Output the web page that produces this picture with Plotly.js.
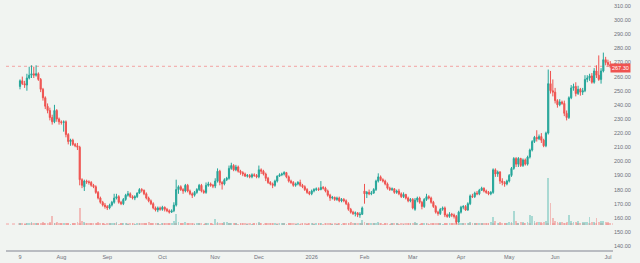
<!DOCTYPE html>
<html><head><meta charset="utf-8">
<script src="https://cdn.plot.ly/plotly-3.0.1.min.js"></script>
<style>html,body{margin:0;padding:0;background:#f1f4f1;}#chart{width:640px;height:263px;}</style>
</head><body><div id="chart"></div>
<script>
const openP = [
253,257,255,254,259,261,262,261,262,258,
251,245,239,236,231,228,236,230,228,227.5,
228,219,214,215,212,211,210,187,182,186,
185.5,185,183,182,178,174,171,169,168,167,
169,171,174,175,171,170,173,176,177,175,
174,175,177.5,180,179.5,177,174,172,170,167,
165.5,167,166,167.5,166,165,164,165,169,180,
182,180,179,183,179,177,176,178,180,183,
179,178,183,184,183,182.5,186,193,185,184,
187,188,195,197,194,196,193,192,191,189.5,
190,189,190.5,190,189,194,193,191,188,185,
184,183,186,189.5,190.5,191,192,189,186,185,
183,184,185,183,182,180,178,177,179,180,
180.5,180,181.5,181,179,176,174,174.5,173,174,
172,173,172,170,166,164,163,163.5,162,162.5,
179,177,178,177,177.5,180,186,189,187,186,
184,181,180,180.5,178,179,177,175,176.5,174,
172,173,166,172.5,174,171,168,173,175,174,
171,168,164,163,166,167,162,161,162.5,162,
161,157,164,167.5,168,165.5,170,175.5,175,177.5,
177,179.5,181,179,178,177,178,194,191,192.5,
186,185,184,186,190,195,202,198,202,197,
201,198,203,208,214,217,216,217.5,215,211,
220,255,250,249,243,240,242,241,234,231,
245,252,253,248,251,249,250,258,259,260.5,
256,264,261,258,264,272,270,268.5];
const highP = [
258,260,257,262,267,268,267,268,263,259,
252,246,241,238,233,240,237,231,229,229,
229,220,216,216,213,213,211,188,187,187,
186.5,186,184,183,179,175,172,170.5,169,170,
172,177,177,176,172,174,177,179,178,176,
176,178,181,181,180,178,175,173,171,168,
168,168,168.5,168,167,166,166,171,187,183,
183,181,184,184,180,178,179,181,184,184,
180,185,185.5,185,184,188,195,194,186,188,
189,197,199,198,197.5,197,194,193,192,191,
191,191.5,191.5,191,197,195,194,192,189,186,
185,187,190,191.5,192,193,192.5,190,187,186,
185,186,187,184,183,181,179,180,181,181.5,
181.5,186,182.5,182,180,177,175.5,175,175,175,
174,174,173,171,167,165,164.5,164,164,168,
184,179,180,179,181,187,191.5,190,188,187,
185,182,181.5,181,180,180.5,178,178,177,175,
174,174,174,175,175,172,174,177,176,175,
172,169,165,167,168,168,163,164,163.5,163,
162,165,168.5,169,169,171,176.5,177,178.5,179,
180.5,182,181.5,180,179,179,195,195,193.5,193,
188,186,187,191,196,203,203,203,202.5,202,
202,204,209,215,218,222,219,220,216,221,
265,264,258,252,244,244,243,243,236,246,
254,255,256,253.5,252,252,261,261,262,262.5,
266,268,275,266,277,274,272,271];
const lowP = [
251,254,252,250,258,259,259,260,257,249,
243,237,234,229,226,227,228,226,226,221,
217,212,211,211,210,208,183,181,179,184,
183.5,182,181,177,173,170,168,166.5,165.5,166,
168,170,173,170,169,169,172,175,174,173,
172.5,174,177,178,176,173,171,169,166,164.5,
164,165,165,164.5,164,163,163.5,164,168,177,
179,177,178,178,176,174,175,177,179,178,
177,177,182,182,181,181,185,183,180,183,
186,187,194,193,193,192,190.5,189.5,189,188.5,
188,188,189,188,188,191,190,186,184,183,
181,182,185,189,189.5,190,188,185,184,182,
182,183,182,181,179,177,176,176,178,179,
179,179.5,180,178,175,172,173,172,172,171,
171,171,169,165,163,162,161,160.5,160,162,
170,174,176,176,177,179,185,186,185,183,
180,179,179,177,177,176,174,174,173,171,
171,166,165,171,170,166,167,172,173,170,
167,163,161.5,162,165,160.5,160,160,160.5,159.5,
155.5,156.5,163,166,165,165,169,174,174,176,
176,179,178,177,176,176,177,189,189,184,
183,182,183,185,189,194,196,196,196,196,
197,197,202,207,213,214,215,213,210,210,
219,248,246,241,238,239,240,232,229,230,
244,250,246,247,246.5,247,249,256,257,255,
255,259,257,255,263,268,267,266];
const closeP = [
257,255,254,259,261,262,261,262,258,251,
245,239,236,231,228,236,230,228,227.5,228,
219,214,215,212,211,210,187,183,186,185.5,
185,183,182,178,174,171,169,168,167,169,
171,174,175,171,170,173,176,177,175,174,
175,177.5,180,179.5,177,174,172,170,167,165.5,
167,166,167.5,166,165,164,165,169,180,182,
180,179,183,179,177,176,178,180,183,179,
178,183,184,183,182.5,186,193,185,184,187,
188,195,197,194,196,193,192,191,189.5,190,
189,190.5,190,189,194,193,191,188,185,184,
183,186,189.5,190.5,191,192,189,186,185,183,
184,185,183,182,180,178,177,179,180,180.5,
180,181.5,181,179,176,174,174.5,173,174,172,
173,172,170,166,164,163,163.5,162,162.5,167,
177,178,177,177.5,180,186,189,187,186,184,
181,180,180.5,178,179,177,175,176.5,174,172,
173,167,172.5,174,171,168,173,175,174,171,
168,164,163,166,167,162,161,162.5,162,161,
157,164,167.5,168,165.5,170,175.5,175,177.5,177,
179.5,181,179,178,177,178,194,191,192.5,186,
185,184,186,190,195,202,198,202,197,201,
198,203,208,214,217,216,217.5,215,211,220,
255,250,249,243,240,242,241,234,231,245,
252,253,248,251,249,250,258,259,260.5,256,
264,261,258,264,272,270,268.5,267.3];
const volumeK = [
20,15,10,20,15,25,20,15,20,20,
25,20,15,30,90,20,30,15,20,15,
20,15,10,15,20,25,170,40,25,20,
15,20,15,20,25,20,15,10,15,20,
15,20,25,10,15,20,15,10,20,15,
10,15,20,15,20,15,25,20,15,20,
15,10,20,15,15,20,15,40,110,30,
20,15,25,15,20,15,10,15,20,15,
10,15,20,15,10,60,30,20,15,25,
30,20,15,20,15,10,15,20,15,10,
15,10,15,20,25,15,10,15,20,15,
20,15,10,15,20,15,10,15,20,15,
10,15,10,20,15,10,15,20,10,15,
15,20,10,15,20,15,10,15,10,15,
10,15,20,15,25,20,15,20,15,50,
30,20,15,20,15,20,25,15,10,15,
15,10,15,20,15,10,15,10,15,20,
15,20,25,15,10,15,20,15,10,15,
20,15,20,15,10,20,15,20,15,20,
30,20,15,20,15,20,25,15,20,15,
20,15,20,15,20,25,80,40,20,25,
20,15,20,25,30,140,40,20,25,30,
20,30,100,90,40,30,25,30,25,40,
470,220,70,40,30,30,30,20,25,100,
40,30,25,40,20,30,30,25,80,30,
25,70,30,35,40,30,25,20];
const tickIndex = [0,18,38,62,85,104,127,150,171,192,213,233,256];
const tickLabels = ["9","Aug","Sep","Oct","Nov","Dec","2026","Feb","Mar","Apr","May","Jun","Jul"];
const priceTicks = [140,150,160,170,180,190,200,210,220,230,240,250,260,270,280,290,300,310];
const lastPrice = 267.3;
const lowerLevel = 155.6;

const UP = '#26a69a', DOWN = '#ef5350';
const idx = closeP.map((_, i) => i);
const volColors = closeP.map((c, i) => c >= openP[i] ? 'rgba(38,166,154,0.35)' : 'rgba(239,83,80,0.35)');

const traces = [
  {type:'bar', x: idx, y: volumeK, yaxis:'y2', marker:{color: volColors, line:{width:0}}, width:0.8, hoverinfo:'skip'},
  {type:'candlestick', x: idx, open: openP, high: highP, low: lowP, close: closeP,
   increasing:{line:{color:UP, width:1}, fillcolor:UP},
   decreasing:{line:{color:DOWN, width:1}, fillcolor:DOWN},
   whiskerwidth:0, hoverinfo:'skip'}
];
const font = {family:'Liberation Sans, Arial, sans-serif', size:5.5, color:'#6d707a'};
const layout = {
  width:640, height:263,
  margin:{l:6, r:27, t:0, b:13, pad:0},
  paper_bgcolor:'#f1f4f1', plot_bgcolor:'#f1f4f1',
  showlegend:false, bargap:0,
  xaxis:{range:[-6.1, 258.2], tickmode:'array', tickvals: tickIndex, ticktext: tickLabels,
    showgrid:false, zeroline:false, showline:true, linecolor:'#b9bcc1', linewidth:2,
    ticks:'', tickfont: font, rangeslider:{visible:false}, fixedrange:true},
  yaxis:{side:'right', range:[137.2, 314.25], tickmode:'array', tickvals: priceTicks, tickformat:'.2f',
    showgrid:false, zeroline:false, showline:false, ticks:'', tickfont: font, fixedrange:true},
  yaxis2:{overlaying:'y', range:[-255, 2245], visible:false, fixedrange:true},
  shapes:[
    {type:'line', xref:'paper', x0:0, x1:1, yref:'y', y0:lastPrice, y1:lastPrice, layer:'below',
     line:{color:'#f3a3a3', width:1, dash:'dot'}},
    {type:'line', xref:'paper', x0:0, x1:1, yref:'y', y0:lowerLevel, y1:lowerLevel, layer:'below',
     line:{color:'#f3a3a3', width:1, dash:'dot'}}
  ],
  annotations:[
    {xref:'paper', x:1, xanchor:'left', xshift:-3, yref:'y', y:lastPrice, yanchor:'middle', yshift:-1.5,
     text: lastPrice.toFixed(2), showarrow:false, bgcolor:'#ef5350', borderpad:1,
     font:{family:'Liberation Sans, Arial, sans-serif', size:5.5, color:'#ffffff'}}
  ]
};
Plotly.newPlot('chart', traces, layout, {displayModeBar:false, staticPlot:true});
</script>
</body></html>
